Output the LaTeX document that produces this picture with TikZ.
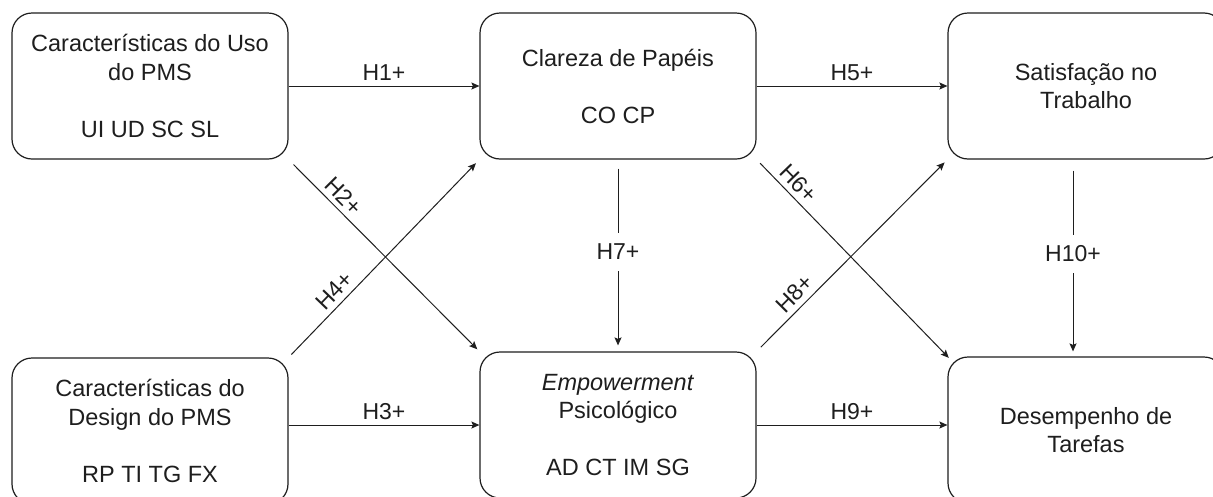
\documentclass[tikz,border=0pt]{standalone}
\usepackage{fontspec}
\setmainfont{Liberation Sans}
\usetikzlibrary{arrows.meta}

\definecolor{ink}{HTML}{1E1E1E}

\begin{document}
\begin{tikzpicture}[x=1pt, y=-1pt,
  box/.style={draw=ink, line width=1.2pt, rounded corners=20pt,
    minimum width=276pt, minimum height=146pt, inner sep=0pt,
    align=center, text=ink, font=\fontsize{23.5}{28.5}\selectfont},
  arr/.style={draw=ink, line width=1pt,
    -{Stealth[length=8pt, width=7pt, inset=1.5pt]}},
  hlab/.style={text=ink, inner sep=5pt, font=\fontsize{23}{27}\selectfont},
  vlab/.style={hlab, fill=white, inner sep=0pt, minimum height=38pt, minimum width=60pt}]

\useasboundingbox (0,0) rectangle (1213,496);
\clip (0,0) rectangle (1213,496);
\fill[white] (0,0) rectangle (1213,496);

% constructs
\node[box] (tl) at (150,86)  {Características do Uso\\do PMS\\[28.5pt]UI UD SC SL};
\node[box] (tm) at (618,86)  {Clareza de Papéis\\[28.5pt]CO CP};
\node[box] (tr) at (1086,86) {Satisfação no\\Trabalho};
\node[box] (bl) at (150,431) {Características do\\Design do PMS\\[28.5pt]RP TI TG FX};
\node[box] (bm) at (618,425) {\textit{Empowerment}\\Psicológico\\[28.5pt]AD CT IM SG};
\node[box] (br) at (1086,430) {Desempenho de\\Tarefas};

% horizontal hypotheses
\draw[arr] (tl) -- (tm) node[midway, above, hlab] {H1+};
\draw[arr] (tm) -- (tr) node[midway, above, hlab] {H5+};
\draw[arr] (bl.east |- bm.west) -- (bm.west) node[midway, above, hlab] {H3+};
\draw[arr] (bm.east) -- (br.west |- bm.east) node[midway, above, hlab] {H9+};

% vertical hypotheses
\draw[arr, shorten <=9pt, shorten >=6pt] (tm.south) -- (bm.north)
  node[pos=0.48, vlab] {H7+};
\draw[arr, shorten <=11pt, shorten >=5pt] ([xshift=-13pt]tr.south) -- ([xshift=-13pt]br.north)
  node[pos=0.48, vlab] {H10+};

% diagonal hypotheses
\draw[arr, shorten <=7pt, shorten >=3pt] (tl.south east) -- (bm.north west)
  node[pos=0.24, sloped, above, hlab] {H2+};
\draw[arr, shorten <=4pt, shorten >=5pt] (bl.north east) -- (tm.south west)
  node[pos=0.29, sloped, above, hlab] {H4+};
\draw[arr, shorten <=5pt, shorten >=-2pt] (tm.south east) -- (br.north west)
  node[pos=0.17, sloped, above, hlab] {H6+};
\draw[arr, shorten <=6pt, shorten >=4pt] (bm.north east) -- (tr.south west)
  node[pos=0.25, sloped, above, hlab] {H8+};

\end{tikzpicture}
\end{document}
